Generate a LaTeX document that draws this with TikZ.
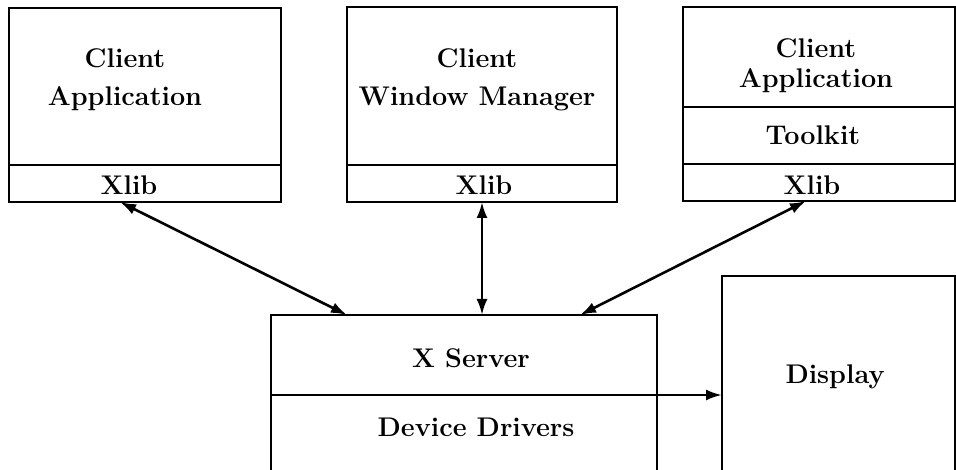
\documentclass[tikz,border=0pt]{standalone}
\usepackage{tikz}
\usetikzlibrary{arrows.meta}

\begin{document}
\begin{tikzpicture}[x=1pt,y=-1pt,
  layer/.style={draw, line width=2.8pt, inner sep=0pt, outer sep=0pt, anchor=north west},
  lbl/.style={font=\fontsize{27}{38}\selectfont\bfseries, align=center, inner sep=0pt},
  link/.style={line width=2.6pt, {Latex[length=16pt,width=11pt]}-{Latex[length=16pt,width=11pt]}}]
\useasboundingbox (0,0) rectangle (956,470);
\clip (0,0) rectangle (956,470);

% clients
\node[layer, minimum width=272pt, minimum height=157pt] (app1) at (9,8) {};
\node[layer, minimum width=272pt, minimum height=37pt] (xlib1) at (app1.south west) {};
\node[layer, minimum width=270pt, minimum height=158pt] (app2) at (347,7) {};
\node[layer, minimum width=270pt, minimum height=37pt] (xlib2) at (app2.south west) {};
\node[layer, minimum width=272pt, minimum height=100pt] (app3) at (683,7) {};
\node[layer, minimum width=272pt, minimum height=57pt] (tk3) at (app3.south west) {};
\node[layer, minimum width=272pt, minimum height=37pt] (xlib3) at (tk3.south west) {};

\node[lbl] (app1txt) at (125,80) {Client\\Application};
\node[lbl] (xlib1txt) at (129,185) {Xlib};
\node[lbl] (app2txt) at (477,80) {Client\\Window Manager};
\node[lbl] (xlib2txt) at (484,185) {Xlib};
\node[lbl, font=\fontsize{27}{30}\selectfont\bfseries] (app3txt) at (816,66) {Client\\Application};
\node[lbl] (tk3txt) at (813,135) {Toolkit};
\node[lbl] (xlib3txt) at (812,185) {Xlib};

% server side
\node[layer, minimum width=386pt, minimum height=80pt] (xsrv) at (271,315) {};
\node[layer, minimum width=386pt, minimum height=100pt] (drv) at (xsrv.south west) {};
\node[layer, minimum width=233pt, minimum height=210pt] (disp) at (722,276) {};

\node[lbl] (xsrvtxt) at (471,358) {X Server};
\node[lbl] (drvtxt) at (476,427) {Device Drivers};
\node[lbl] (disptxt) at (835,377) {Display};

% connections
\draw[link] ([xshift=-25pt]xlib1.south) -- ([xshift=-117pt]xsrv.north);
\draw[link] (xlib2.south) -- (xlib2.south |- xsrv.north);
\draw[link] ([xshift=-13pt]xlib3.south) -- ([xshift=116pt]xsrv.north);
\draw[line width=2.6pt, -{Latex[length=16pt,width=11pt]}] (xsrv.south east) -- (xsrv.south east -| disp.west);
\end{tikzpicture}
\end{document}
